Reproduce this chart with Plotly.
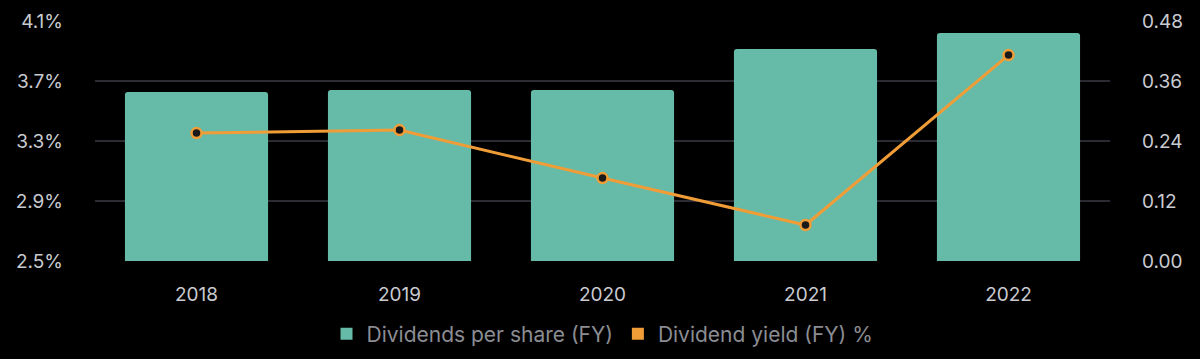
import plotly.graph_objects as go

years = ["2018", "2019", "2020", "2021", "2022"]
dividends_per_share = [0.338, 0.342, 0.342, 0.424, 0.456]
dividend_yield = [3.353, 3.373, 3.053, 2.74, 3.873]

left_ticks = [2.5, 2.9, 3.3, 3.7, 4.1]
left_labels = ["2.5%", "2.9%", "3.3%", "3.7%", "4.1%"]
right_ticks = [0.0, 0.12, 0.24, 0.36, 0.48]
right_labels = ["0.00", "0.12", "0.24", "0.36", "0.48"]

BAR = "#66bba8"
LINE = "#f09d38"
GRID = "#2b2b33"
TICK = "#c9cbd1"
LEG = "#8b8d93"
FONT = "Inter, Roboto, sans-serif"

fig = go.Figure()
fig.add_trace(go.Bar(x=years, y=dividends_per_share, yaxis="y", marker=dict(color=BAR, cornerradius=3, line=dict(width=0)),
                     width=0.705, showlegend=False, hoverinfo="y"))
fig.add_trace(go.Scatter(x=years, y=dividend_yield, yaxis="y2", mode="lines+markers",
                         line=dict(color=LINE, width=3),
                         marker=dict(size=10, color="#1a1a1a", line=dict(color=LINE, width=2.5)),
                         showlegend=False))
fig.add_trace(go.Scatter(x=[None], y=[None], mode="markers", name="Dividends per share (FY)",
                         marker=dict(symbol="square", size=10, color=BAR)))
fig.add_trace(go.Scatter(x=[None], y=[None], mode="markers", name="Dividend yield (FY) %",
                         marker=dict(symbol="square", size=10, color=LINE)))

fig.update_layout(
    width=1200, height=359,
    paper_bgcolor="#000000", plot_bgcolor="#000000",
    margin=dict(l=95, r=90, t=21, b=98, autoexpand=False),
    font=dict(family=FONT, size=18, color=TICK),
    xaxis=dict(type="category", showgrid=False, zeroline=False, showline=False, automargin=False,
               ticks="", ticklabelstandoff=20, tickfont=dict(family=FONT, size=19, color=TICK)),
    yaxis=dict(range=[0, 0.48], tickvals=right_ticks, ticktext=right_labels,
               side="right", showgrid=True, gridcolor=GRID, gridwidth=1.5, zeroline=False, showline=False,
               automargin=False, ticks="", ticklabelstandoff=31,
               tickfont=dict(family=FONT, size=19, color=TICK)),
    yaxis2=dict(range=[2.5, 4.1], tickvals=left_ticks, ticktext=left_labels, overlaying="y",
                side="left", showgrid=False, zeroline=False, showline=False, automargin=False,
                ticks="", ticklabelstandoff=31, tickfont=dict(family=FONT, size=19, color=TICK)),
    legend=dict(orientation="h", x=0.5, xanchor="center", y=-0.305, yanchor="middle",
                font=dict(family=FONT, size=21, color=LEG), itemsizing="constant", itemwidth=30,
                bgcolor="rgba(0,0,0,0)"),
)
fig.write_html("out.html", config={"displayModeBar": False},
               post_script="document.body.style.margin='0';document.body.style.background='#000';")
